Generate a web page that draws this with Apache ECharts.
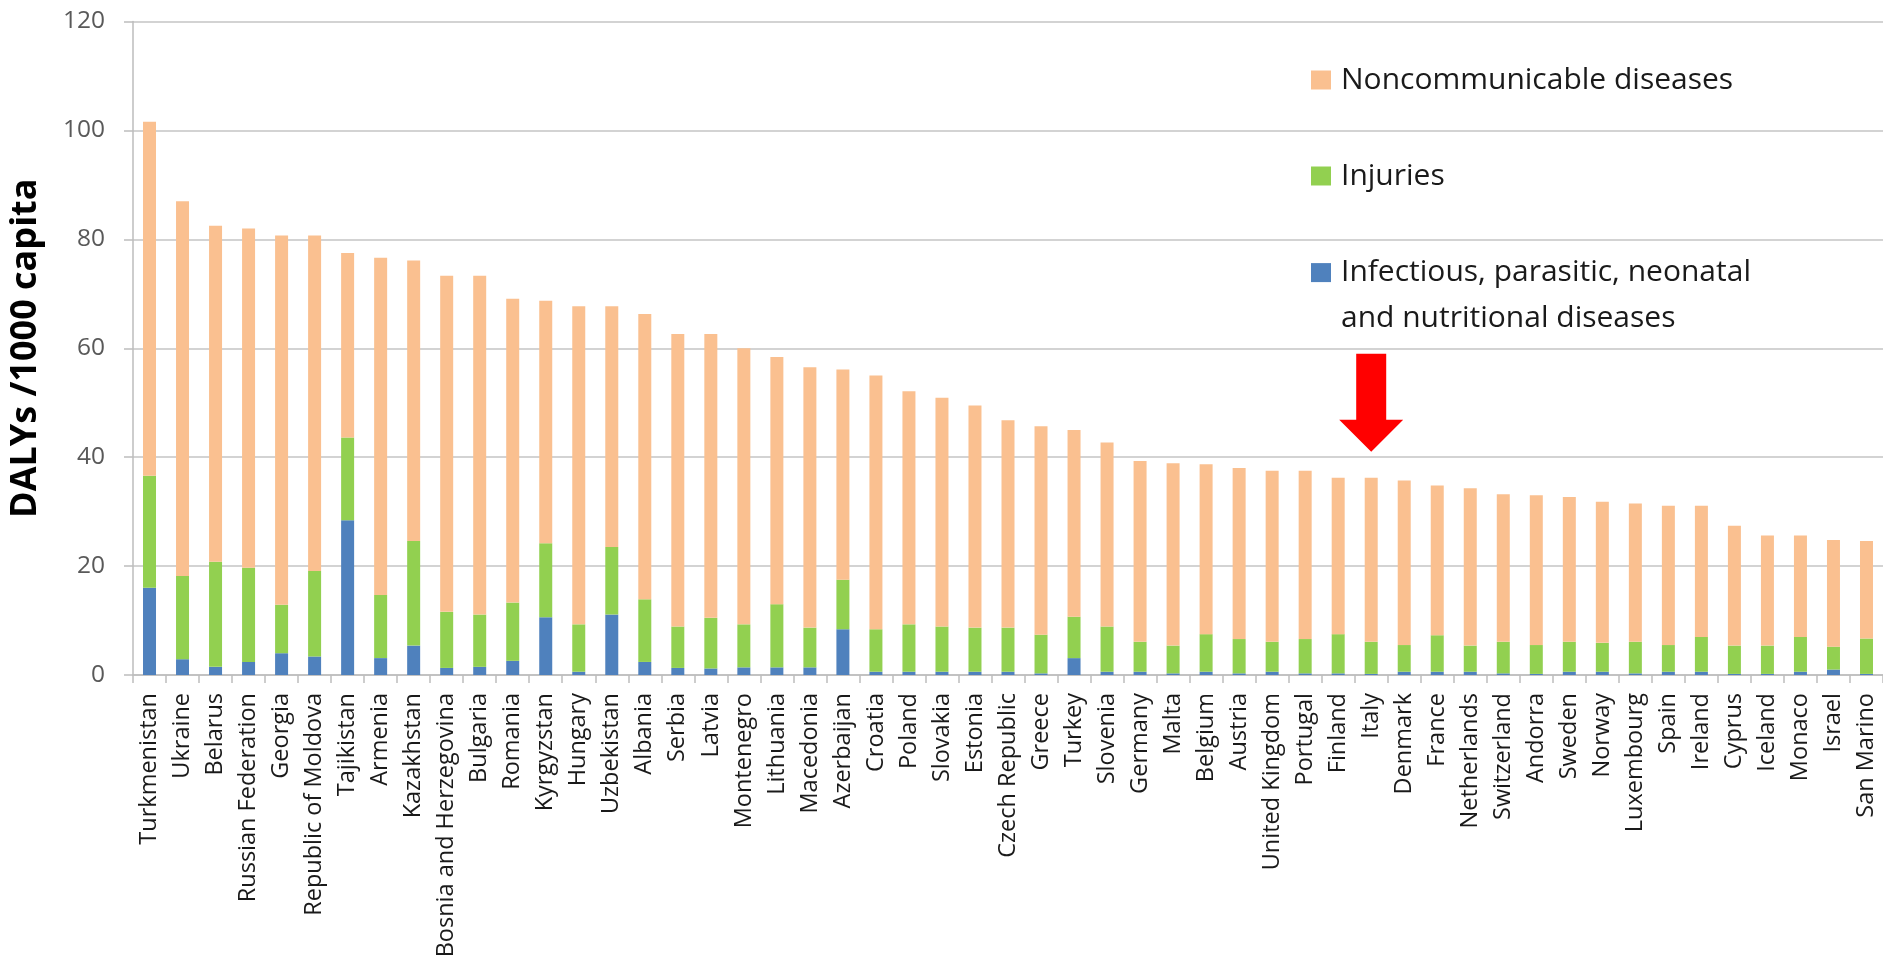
<!DOCTYPE html>
<html>
<head>
<meta charset="utf-8">
<title>DALYs per 1000 capita by country</title>
<script src="https://cdn.jsdelivr.net/npm/echarts@6/dist/echarts.min.js"></script>
<style>
  html, body { margin: 0; padding: 0; background: #ffffff; }
  #chart { width: 1883px; height: 966px; }
</style>
</head>
<body>
<div id="chart"></div>
<script>
// Countries, ordered by total DALYs per 1000 capita
const countries = [
  'Turkmenistan', 'Ukraine', 'Belarus', 'Russian Federation', 'Georgia',
  'Republic of Moldova', 'Tajikistan', 'Armenia', 'Kazakhstan', 'Bosnia and Herzegovina',
  'Bulgaria', 'Romania', 'Kyrgyzstan', 'Hungary', 'Uzbekistan',
  'Albania', 'Serbia', 'Latvia', 'Montenegro', 'Lithuania',
  'Macedonia', 'Azerbaijan', 'Croatia', 'Poland', 'Slovakia',
  'Estonia', 'Czech Republic', 'Greece', 'Turkey', 'Slovenia',
  'Germany', 'Malta', 'Belgium', 'Austria', 'United Kingdom',
  'Portugal', 'Finland', 'Italy', 'Denmark', 'France',
  'Netherlands', 'Switzerland', 'Andorra', 'Sweden', 'Norway',
  'Luxembourg', 'Spain', 'Ireland', 'Cyprus', 'Iceland',
  'Monaco', 'Israel', 'San Marino'
];

// Infectious, parasitic, neonatal and nutritional diseases
const infectious = [
  16.0, 2.9, 1.5, 2.4, 4.0,
  3.4, 28.4, 3.1, 5.4, 1.3,
  1.5, 2.6, 10.6, 0.6, 11.1,
  2.4, 1.3, 1.2, 1.4, 1.4,
  1.4, 8.4, 0.6, 0.6, 0.6,
  0.6, 0.6, 0.3, 3.1, 0.6,
  0.6, 0.3, 0.6, 0.3, 0.6,
  0.3, 0.3, 0.2, 0.6, 0.6,
  0.6, 0.3, 0.2, 0.6, 0.6,
  0.3, 0.6, 0.6, 0.2, 0.2,
  0.6, 1.0, 0.2
];

// Injuries
const injuries = [
  20.6, 15.3, 19.3, 17.3, 8.9,
  15.7, 15.2, 11.6, 19.2, 10.3,
  9.6, 10.7, 13.6, 8.7, 12.4,
  11.5, 7.6, 9.3, 7.9, 11.6,
  7.3, 9.1, 7.8, 8.7, 8.3,
  8.1, 8.1, 7.1, 7.6, 8.3,
  5.5, 5.1, 6.9, 6.3, 5.5,
  6.3, 7.2, 5.9, 4.9, 6.7,
  4.8, 5.8, 5.3, 5.5, 5.3,
  5.8, 4.9, 6.4, 5.2, 5.2,
  6.4, 4.2, 6.5
];

// Noncommunicable diseases
const noncommunicable = [
  65.0, 68.8, 61.7, 62.3, 67.8,
  61.6, 33.9, 61.9, 51.5, 61.7,
  62.2, 55.8, 44.5, 58.4, 44.2,
  52.4, 53.7, 52.1, 50.7, 45.4,
  47.8, 38.6, 46.6, 42.8, 42.0,
  40.8, 38.1, 38.3, 34.3, 33.8,
  33.2, 33.5, 31.2, 31.4, 31.4,
  30.9, 28.7, 30.1, 30.2, 27.5,
  28.9, 27.1, 27.5, 26.6, 25.9,
  25.4, 25.6, 24.1, 22.0, 20.2,
  18.6, 19.6, 17.9
];

// Value axis range and step
const yMin = 0;
const yMax = 120;
const yStep = 20;

// Highlighted country and the height the arrow points to
const highlightCountry = 'Italy';
const arrowTipValue = 41;

const seriesNames = {
  ncd: 'Noncommunicable diseases',
  inj: 'Injuries',
  inf: 'Infectious, parasitic, neonatal and nutritional diseases'
};

// The long legend entry wraps onto two lines
const infLegendLines = ['Infectious, parasitic, neonatal', 'and nutritional diseases'];

const colors = {
  ncd: '#FAC090',
  inj: '#92D050',
  inf: '#4F81BD'
};

const FONT = '"Open Sans", "Noto Sans", sans-serif';
const gridColor = '#c4c4c4';

const chart = echarts.init(document.getElementById('chart'), null, { renderer: 'canvas' });

const legendFont = {
  fontFamily: FONT,
  fontSize: 30,
  color: '#1a1a1a',
  lineHeight: 46
};

function legendFor(name, top, formatter) {
  return {
    data: [name],
    orient: 'vertical',
    left: 1311,
    top: top,
    padding: 0,
    itemWidth: 20,
    itemHeight: 19,
    icon: 'rect',
    selectedMode: false,
    formatter: formatter,
    textStyle: Object.assign({}, legendFont, {
      rich: {
        t: Object.assign({}, legendFont, { padding: [0, 0, 0, 5] })
      }
    })
  };
}

const option = {
  animation: false,
  backgroundColor: '#ffffff',
  grid: {
    left: 126.5,
    top: 21.5,
    width: 1767,
    height: 653.5
  },
  legend: [
    legendFor(seriesNames.ncd, 57, function (n) { return '{t|' + n + '}'; }),
    legendFor(seriesNames.inj, 153, function (n) { return '{t|' + n + '}'; }),
    // an empty first line keeps the icon level with the first text line
    legendFor(seriesNames.inf, 203.6, function () {
      return '\n' + infLegendLines.map(function (l) { return '{t|' + l + '}'; }).join('\n');
    })
  ],
  xAxis: {
    type: 'category',
    data: countries,
    boundaryGap: true,
    axisLine: { show: true, lineStyle: { color: '#bdbdbd', width: 1.5 } },
    axisTick: { show: true, alignWithLabel: false, length: 8, lineStyle: { color: '#bdbdbd', width: 1.5 } },
    axisLabel: {
      interval: 0,
      rotate: 90,
      margin: 18,
      fontFamily: FONT,
      fontSize: 23.5,
      color: '#1a1a1a'
    },
    splitLine: { show: false }
  },
  yAxis: {
    type: 'value',
    min: yMin,
    max: yMax,
    interval: yStep,
    name: 'DALYs /1000 capita',
    nameLocation: 'middle',
    nameGap: 89,
    nameTextStyle: {
      fontFamily: FONT,
      fontSize: 36,
      fontWeight: 'bold',
      color: '#000000'
    },
    axisLine: { show: true, lineStyle: { color: '#bdbdbd', width: 1.5 } },
    axisTick: { show: true, length: 9, lineStyle: { color: '#bdbdbd', width: 1.5 } },
    axisLabel: {
      margin: 28,
      fontFamily: FONT,
      fontSize: 24.5,
      color: '#595959'
    },
    splitLine: { show: true, lineStyle: { color: gridColor, width: 1.5 } }
  },
  series: [
    {
      name: seriesNames.inf,
      type: 'bar',
      stack: 'dalys',
      barWidth: 13,
      itemStyle: { color: colors.inf },
      data: infectious
    },
    {
      name: seriesNames.inj,
      type: 'bar',
      stack: 'dalys',
      barWidth: 13,
      itemStyle: { color: colors.inj },
      data: injuries
    },
    {
      name: seriesNames.ncd,
      type: 'bar',
      stack: 'dalys',
      barWidth: 13,
      itemStyle: { color: colors.ncd },
      data: noncommunicable,
      markPoint: {
        silent: true,
        symbol: 'path://M17,0 L47,0 L47,66 L64,66 L32,98 L0,66 L17,66 Z',
        symbolSize: [64, 98],
        symbolKeepAspect: false,
        symbolOffset: [0, '-50%'],
        itemStyle: { color: '#FF0000' },
        label: { show: false },
        data: [{ coord: [highlightCountry, arrowTipValue] }]
      }
    }
  ]
};

chart.setOption(option);
</script>
</body>
</html>
